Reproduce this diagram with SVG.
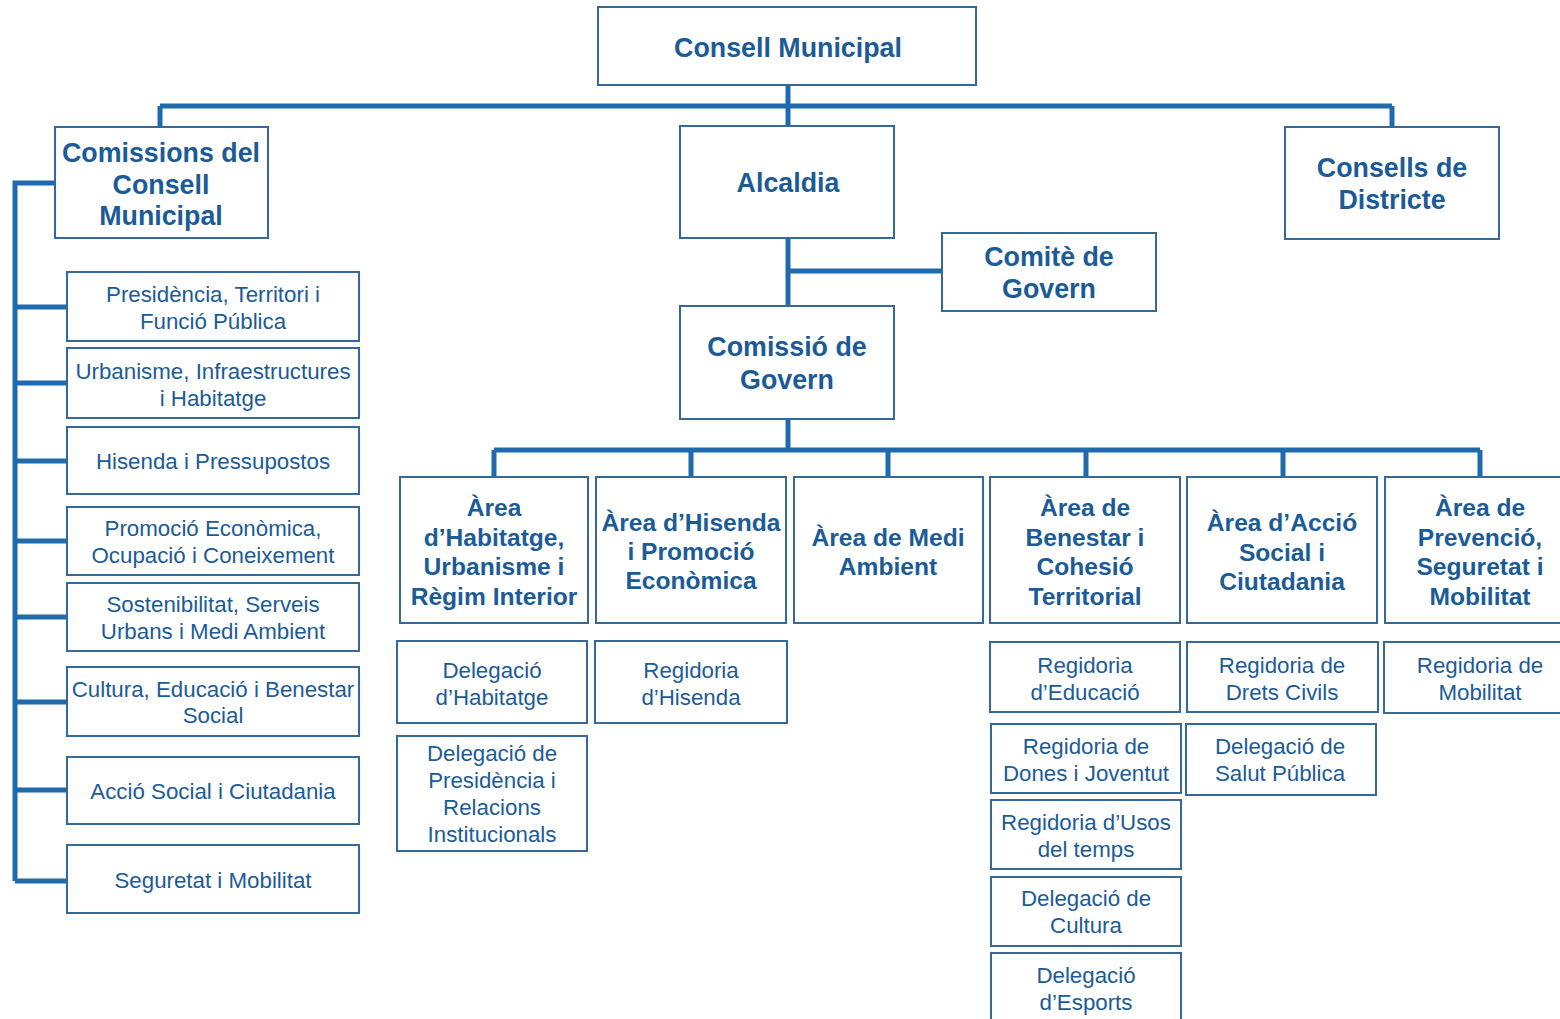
<svg xmlns="http://www.w3.org/2000/svg" width="1560" height="1019" viewBox="0 0 1560 1019">
<style>
.box{fill:#fff;stroke:#35699a;stroke-width:2}
.c{stroke:#1f6aad;stroke-width:5;fill:none}
.b{font-family:"Liberation Sans",Arial,sans-serif;font-weight:bold;font-size:24.6px;fill:#1b5b97;text-anchor:middle}
.t{font-size:26.8px}
.r{font-family:"Liberation Sans",Arial,sans-serif;font-size:22.3px;fill:#1b5b97;text-anchor:middle}
</style>
<rect width="1560" height="1019" fill="#fff"/>
<g id="connectors">
<path class="c" d="M788 85V126M160 106H1392M160 106V127M1392 106V127"/>
<path class="c" d="M788 238V306M788 271H942M788 419V450M494 450H1480"/>
<path class="c" d="M494 450V477M691 450V477M888 450V477M1086 450V477M1283 450V477M1480 450V477"/>
<path class="c" d="M55 183H15V881M15 307H67M15 383H67M15 461H67M15 541H67M15 617H67M15 702H67M15 790H67M15 881H67"/>
</g>
<g id="consell-municipal"><rect class="box" x="598" y="7" width="378" height="78"/><text class="b t" x="788" y="57">Consell Municipal</text></g>
<g id="comissions"><rect class="box" x="55" y="127" width="213" height="111"/><text class="b t" x="161" y="162">Comissions del</text><text class="b t" x="161" y="194">Consell</text><text class="b t" x="161" y="225">Municipal</text></g>
<g id="alcaldia"><rect class="box" x="680" y="126" width="214" height="112"/><text class="b t" x="788" y="192">Alcaldia</text></g>
<g id="consells-districte"><rect class="box" x="1285" y="127" width="214" height="112"/><text class="b t" x="1392" y="177">Consells de</text><text class="b t" x="1392" y="209">Districte</text></g>
<g id="comite-govern"><rect class="box" x="942" y="233" width="214" height="78"/><text class="b t" x="1049" y="266">Comitè de</text><text class="b t" x="1049" y="298">Govern</text></g>
<g id="comissio-govern"><rect class="box" x="680" y="306" width="214" height="113"/><text class="b t" x="787" y="356">Comissió de</text><text class="b t" x="787" y="389">Govern</text></g>

<g id="area-habitatge"><rect class="box" x="400" y="477" width="188" height="146"/><text class="b" x="494" y="516">Àrea</text><text class="b" x="494" y="546">d’Habitatge,</text><text class="b" x="494" y="575">Urbanisme i</text><text class="b" x="494" y="605">Règim Interior</text></g>
<g id="area-hisenda"><rect class="box" x="596" y="477" width="190" height="146"/><text class="b" x="691" y="531">Àrea d’Hisenda</text><text class="b" x="691" y="560">i Promoció</text><text class="b" x="691" y="589">Econòmica</text></g>
<g id="area-medi"><rect class="box" x="794" y="477" width="189" height="146"/><text class="b" x="888" y="546">Àrea de Medi</text><text class="b" x="888" y="575">Ambient</text></g>
<g id="area-benestar"><rect class="box" x="990" y="477" width="190" height="146"/><text class="b" x="1085" y="516">Àrea de</text><text class="b" x="1085" y="546">Benestar i</text><text class="b" x="1085" y="575">Cohesió</text><text class="b" x="1085" y="605">Territorial</text></g>
<g id="area-accio"><rect class="box" x="1187" y="477" width="190" height="146"/><text class="b" x="1282" y="531">Àrea d’Acció</text><text class="b" x="1282" y="561">Social i</text><text class="b" x="1282" y="590">Ciutadania</text></g>
<g id="area-prevencio"><rect class="box" x="1385" y="477" width="185" height="146"/><text class="b" x="1480" y="516">Àrea de</text><text class="b" x="1480" y="546">Prevenció,</text><text class="b" x="1480" y="575">Seguretat i</text><text class="b" x="1480" y="605">Mobilitat</text></g>

<g id="com-presidencia"><rect class="box" x="67" y="272" width="292" height="69"/><text class="r" x="213" y="302">Presidència, Territori i</text><text class="r" x="213" y="329">Funció Pública</text></g>
<g id="com-urbanisme"><rect class="box" x="67" y="348" width="292" height="70"/><text class="r" x="213" y="379">Urbanisme, Infraestructures</text><text class="r" x="213" y="406">i Habitatge</text></g>
<g id="com-hisenda"><rect class="box" x="67" y="427" width="292" height="67"/><text class="r" x="213" y="469">Hisenda i Pressupostos</text></g>
<g id="com-promocio"><rect class="box" x="67" y="507" width="292" height="68"/><text class="r" x="213" y="536">Promoció Econòmica,</text><text class="r" x="213" y="563">Ocupació i Coneixement</text></g>
<g id="com-sostenibilitat"><rect class="box" x="67" y="583" width="292" height="68"/><text class="r" x="213" y="612">Sostenibilitat, Serveis</text><text class="r" x="213" y="639">Urbans i Medi Ambient</text></g>
<g id="com-cultura"><rect class="box" x="67" y="667" width="292" height="69"/><text class="r" x="213" y="697">Cultura, Educació i Benestar</text><text class="r" x="213" y="723">Social</text></g>
<g id="com-accio"><rect class="box" x="67" y="757" width="292" height="67"/><text class="r" x="213" y="799">Acció Social i Ciutadania</text></g>
<g id="com-seguretat"><rect class="box" x="67" y="845" width="292" height="68"/><text class="r" x="213" y="888">Seguretat i Mobilitat</text></g>

<g id="del-habitatge"><rect class="box" x="397" y="641" width="190" height="82"/><text class="r" x="492" y="678">Delegació</text><text class="r" x="492" y="705">d’Habitatge</text></g>
<g id="del-presidencia"><rect class="box" x="397" y="736" width="190" height="115"/><text class="r" x="492" y="761">Delegació de</text><text class="r" x="492" y="788">Presidència i</text><text class="r" x="492" y="815">Relacions</text><text class="r" x="492" y="842">Institucionals</text></g>
<g id="reg-hisenda"><rect class="box" x="595" y="641" width="192" height="82"/><text class="r" x="691" y="678">Regidoria</text><text class="r" x="691" y="705">d’Hisenda</text></g>
<g id="reg-educacio"><rect class="box" x="990" y="642" width="190" height="70"/><text class="r" x="1085" y="673">Regidoria</text><text class="r" x="1085" y="700">d’Educació</text></g>
<g id="reg-dones"><rect class="box" x="991" y="724" width="190" height="69"/><text class="r" x="1086" y="754">Regidoria de</text><text class="r" x="1086" y="781">Dones i Joventut</text></g>
<g id="reg-usos"><rect class="box" x="991" y="800" width="190" height="69"/><text class="r" x="1086" y="830">Regidoria d’Usos</text><text class="r" x="1086" y="857">del temps</text></g>
<g id="del-cultura"><rect class="box" x="991" y="877" width="190" height="69"/><text class="r" x="1086" y="906">Delegació de</text><text class="r" x="1086" y="933">Cultura</text></g>
<g id="del-esports"><rect class="box" x="991" y="953" width="190" height="75"/><text class="r" x="1086" y="983">Delegació</text><text class="r" x="1086" y="1010">d’Esports</text></g>
<g id="reg-drets"><rect class="box" x="1187" y="642" width="191" height="70"/><text class="r" x="1282" y="673">Regidoria de</text><text class="r" x="1282" y="700">Drets Civils</text></g>
<g id="del-salut"><rect class="box" x="1186" y="724" width="190" height="71"/><text class="r" x="1280" y="754">Delegació de</text><text class="r" x="1280" y="781">Salut Pública</text></g>
<g id="reg-mobilitat"><rect class="box" x="1384" y="642" width="186" height="71"/><text class="r" x="1480" y="673">Regidoria de</text><text class="r" x="1480" y="700">Mobilitat</text></g>
</svg>
